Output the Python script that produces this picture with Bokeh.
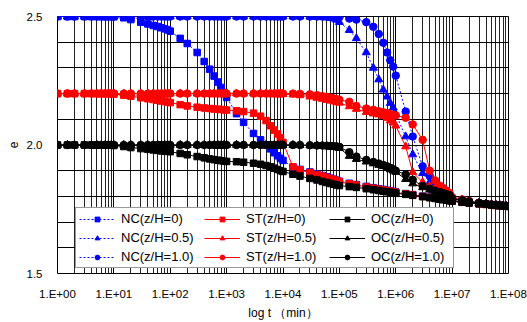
from bokeh.plotting import figure
from bokeh.models import FixedTicker, CustomJSTickFormatter, Legend, LegendItem
from bokeh.embed import file_html
from bokeh.resources import INLINE

# sampling times: mantissas within each decade
MANT = [1, 1.5, 2, 3, 4, 5, 6, 7, 8, 9]
DECADES = [0, 1, 2, 3, 4, 5, 6, 7]
T = [m * 10 ** d for d in DECADES for m in MANT] + [1e8]

X_TICKS = [1, 10, 100, 1e3, 1e4, 1e5, 1e6, 1e7, 1e8]
X_MINOR = [m * 10 ** d for d in DECADES for m in [2, 3, 4, 5, 6, 7, 8, 9]]
Y_TICKS = [1.5, 2.0, 2.5]
Y_MINOR = [1.6, 1.7, 1.8, 1.9, 2.1, 2.2, 2.3, 2.4]

NC0 = [
    2.5, 2.5, 2.5, 2.5, 2.5, 2.5, 2.5, 2.5, 2.5, 2.5,
    2.499, 2.495, 2.488, 2.478, 2.471, 2.465, 2.461, 2.456, 2.452, 2.448,
    2.443, 2.415, 2.395, 2.36, 2.325, 2.295, 2.268, 2.245, 2.224, 2.204,
    2.185, 2.122, 2.088, 2.045, 2.02, 2.0, 1.985, 1.97, 1.958, 1.948,
    1.94, 1.913, 1.905, 1.895, 1.887, 1.881, 1.876, 1.871, 1.867, 1.863,
    1.859, 1.851, 1.846, 1.839, 1.834, 1.83, 1.827, 1.824, 1.822, 1.82,
    1.817, 1.811, 1.807, 1.801, 1.797, 1.794, 1.791, 1.789, 1.787, 1.785,
    1.783, 1.779, 1.776, 1.772, 1.77, 1.768, 1.766, 1.765, 1.764, 1.763,
    1.762]
NC05 = [
    2.5, 2.5, 2.5, 2.5, 2.5, 2.5, 2.5, 2.5, 2.5, 2.5,
    2.5, 2.5, 2.5, 2.5, 2.5, 2.5, 2.5, 2.5, 2.5, 2.5,
    2.5, 2.5, 2.5, 2.5, 2.5, 2.5, 2.5, 2.5, 2.5, 2.5,
    2.5, 2.5, 2.5, 2.5, 2.5, 2.5, 2.5, 2.5, 2.5, 2.5,
    2.5, 2.5, 2.5, 2.499, 2.498, 2.497, 2.496, 2.494, 2.491, 2.487,
    2.478, 2.447, 2.415, 2.36, 2.3, 2.255, 2.215, 2.188, 2.163, 2.145,
    2.12, 2.033, 1.963, 1.89, 1.855, 1.838, 1.828, 1.82, 1.812, 1.806,
    1.792, 1.785, 1.78, 1.774, 1.771, 1.768, 1.766, 1.765, 1.764, 1.763,
    1.762]
NC10 = [
    2.5, 2.5, 2.5, 2.5, 2.5, 2.5, 2.5, 2.5, 2.5, 2.5,
    2.5, 2.5, 2.5, 2.5, 2.5, 2.5, 2.5, 2.5, 2.5, 2.5,
    2.5, 2.5, 2.5, 2.5, 2.5, 2.5, 2.5, 2.5, 2.5, 2.5,
    2.5, 2.5, 2.5, 2.5, 2.5, 2.5, 2.5, 2.5, 2.5, 2.5,
    2.5, 2.5, 2.5, 2.5, 2.5, 2.5, 2.5, 2.5, 2.5, 2.5,
    2.498, 2.492, 2.488, 2.478, 2.46, 2.432, 2.398, 2.36, 2.33, 2.305,
    2.27, 2.13, 2.033, 1.917, 1.88, 1.855, 1.84, 1.828, 1.818, 1.81,
    1.795, 1.787, 1.781, 1.775, 1.771, 1.768, 1.766, 1.765, 1.764, 1.763,
    1.762]
ST0 = [
    2.2, 2.2, 2.2, 2.2, 2.2, 2.2, 2.2, 2.2, 2.2, 2.2,
    2.198, 2.194, 2.19, 2.184, 2.18, 2.177, 2.174, 2.171, 2.169, 2.167,
    2.165, 2.157, 2.152, 2.147, 2.144, 2.142, 2.14, 2.139, 2.138, 2.137,
    2.136, 2.133, 2.13, 2.124, 2.112, 2.095, 2.075, 2.058, 2.043, 2.028,
    2.01, 1.915, 1.903, 1.893, 1.885, 1.879, 1.874, 1.869, 1.865, 1.861,
    1.857, 1.849, 1.844, 1.837, 1.832, 1.828, 1.825, 1.822, 1.82, 1.818,
    1.815, 1.81, 1.806, 1.8, 1.796, 1.793, 1.79, 1.788, 1.786, 1.784,
    1.782, 1.778, 1.775, 1.771, 1.769, 1.767, 1.765, 1.764, 1.763, 1.762,
    1.761]
ST05 = [
    2.2, 2.2, 2.2, 2.2, 2.2, 2.2, 2.2, 2.2, 2.2, 2.2,
    2.2, 2.2, 2.2, 2.2, 2.2, 2.2, 2.2, 2.2, 2.2, 2.2,
    2.2, 2.2, 2.2, 2.2, 2.2, 2.2, 2.2, 2.2, 2.2, 2.2,
    2.2, 2.2, 2.2, 2.2, 2.2, 2.2, 2.2, 2.2, 2.2, 2.2,
    2.198, 2.196, 2.193, 2.188, 2.183, 2.179, 2.175, 2.172, 2.169, 2.166,
    2.164, 2.15, 2.14, 2.128, 2.122, 2.118, 2.112, 2.105, 2.095, 2.087,
    2.075, 1.994, 1.894, 1.855, 1.84, 1.833, 1.825, 1.818, 1.812, 1.806,
    1.792, 1.785, 1.78, 1.774, 1.771, 1.768, 1.766, 1.765, 1.764, 1.763,
    1.762]
ST10 = [
    2.2, 2.2, 2.2, 2.2, 2.2, 2.2, 2.2, 2.2, 2.2, 2.2,
    2.2, 2.2, 2.2, 2.2, 2.2, 2.2, 2.2, 2.2, 2.2, 2.2,
    2.2, 2.2, 2.2, 2.2, 2.2, 2.2, 2.2, 2.2, 2.2, 2.2,
    2.2, 2.2, 2.2, 2.2, 2.2, 2.2, 2.2, 2.2, 2.2, 2.2,
    2.2, 2.2, 2.199, 2.197, 2.194, 2.19, 2.187, 2.184, 2.181, 2.178,
    2.176, 2.168, 2.152, 2.142, 2.137, 2.131, 2.127, 2.124, 2.12, 2.117,
    2.115, 2.106, 2.08, 2.02, 1.9, 1.862, 1.842, 1.832, 1.822, 1.813,
    1.797, 1.788, 1.782, 1.775, 1.771, 1.768, 1.766, 1.765, 1.764, 1.763,
    1.762]
OC0 = [
    2.0, 2.0, 2.0, 2.0, 2.0, 2.0, 2.0, 2.0, 2.0, 2.0,
    1.998, 1.994, 1.99, 1.986, 1.983, 1.981, 1.979, 1.977, 1.976, 1.975,
    1.974, 1.967, 1.962, 1.955, 1.95, 1.946, 1.943, 1.941, 1.939, 1.937,
    1.936, 1.935, 1.933, 1.929, 1.925, 1.92, 1.915, 1.91, 1.905, 1.9,
    1.897, 1.886, 1.879, 1.87, 1.864, 1.858, 1.854, 1.85, 1.847, 1.844,
    1.842, 1.838, 1.835, 1.83, 1.826, 1.823, 1.82, 1.818, 1.816, 1.814,
    1.812, 1.808, 1.804, 1.799, 1.795, 1.792, 1.789, 1.787, 1.785, 1.783,
    1.781, 1.777, 1.774, 1.771, 1.769, 1.767, 1.765, 1.764, 1.763, 1.762,
    1.761]
OC05 = [
    2.0, 2.0, 2.0, 2.0, 2.0, 2.0, 2.0, 2.0, 2.0, 2.0,
    2.0, 2.0, 2.0, 2.0, 2.0, 2.0, 2.0, 2.0, 2.0, 2.0,
    2.0, 2.0, 2.0, 2.0, 2.0, 2.0, 2.0, 2.0, 2.0, 2.0,
    2.0, 2.0, 2.0, 2.0, 2.0, 2.0, 2.0, 2.0, 2.0, 2.0,
    2.0, 2.0, 1.999, 1.998, 1.997, 1.996, 1.995, 1.994, 1.993, 1.992,
    1.988, 1.957, 1.945, 1.935, 1.928, 1.922, 1.917, 1.912, 1.905, 1.9,
    1.895, 1.867, 1.85, 1.835, 1.826, 1.82, 1.815, 1.811, 1.807, 1.803,
    1.79, 1.784, 1.779, 1.774, 1.771, 1.768, 1.766, 1.765, 1.764, 1.763,
    1.762]
OC10 = [
    2.0, 2.0, 2.0, 2.0, 2.0, 2.0, 2.0, 2.0, 2.0, 2.0,
    2.0, 2.0, 2.0, 2.0, 2.0, 2.0, 2.0, 2.0, 2.0, 2.0,
    2.0, 2.0, 2.0, 2.0, 2.0, 2.0, 2.0, 2.0, 2.0, 2.0,
    2.0, 2.0, 2.0, 2.0, 2.0, 2.0, 2.0, 2.0, 2.0, 2.0,
    2.0, 2.0, 2.0, 1.999, 1.998, 1.998, 1.997, 1.996, 1.995, 1.994,
    1.993, 1.972, 1.955, 1.942, 1.934, 1.928, 1.922, 1.917, 1.911, 1.906,
    1.9, 1.885, 1.865, 1.84, 1.83, 1.822, 1.817, 1.812, 1.808, 1.804,
    1.791, 1.785, 1.78, 1.774, 1.771, 1.768, 1.766, 1.765, 1.764, 1.763,
    1.762]

SERIES = [
    ("NC(z/H=0)", NC0, "#0000ff", "square", "2 2", 6.5),
    ("NC(z/H=0.5)", NC05, "#0000ff", "triangle", "2 2", 8),
    ("NC(z/H=1.0)", NC10, "#0000ff", "circle", "2 2", 7.5),
    ("ST(z/H=0)", ST0, "#ff0000", "square", "solid", 6.5),
    ("ST(z/H=0.5)", ST05, "#ff0000", "triangle", "solid", 8),
    ("ST(z/H=1.0)", ST10, "#ff0000", "circle", "solid", 7.5),
    ("OC(z/H=0)", OC0, "#000000", "square", "solid", 6.5),
    ("OC(z/H=0.5)", OC05, "#000000", "triangle", "solid", 8),
    ("OC(z/H=1.0)", OC10, "#000000", "circle", "solid", 7.5),
]

FONT = "Liberation Sans"

p = figure(width=527, height=322, x_axis_type="log", x_range=(1, 1e8), y_range=(1.5, 2.5),
           output_backend="svg", toolbar_location=None,
           min_border_left=57, min_border_right=19, min_border_top=16, min_border_bottom=47)
p.background_fill_color = "white"
p.border_fill_color = "white"
p.outline_line_color = "black"
p.outline_line_width = 1

p.xaxis.ticker = FixedTicker(ticks=X_TICKS, minor_ticks=X_MINOR)
p.yaxis.ticker = FixedTicker(ticks=Y_TICKS, minor_ticks=Y_MINOR)
p.xaxis.formatter = CustomJSTickFormatter(
    code="const e = Math.round(Math.log10(tick)); return '1.E+' + (e < 10 ? '0' : '') + e;")
p.yaxis.formatter = CustomJSTickFormatter(code="return tick.toFixed(1);")

for ax in (p.xaxis, p.yaxis):
    ax.axis_line_color = None
    ax.major_tick_line_color = None
    ax.minor_tick_line_color = None
    ax.major_tick_out = 0
    ax.minor_tick_out = 0
    ax.major_label_text_font = FONT
    ax.major_label_text_font_size = "11.5px"
    ax.major_label_text_color = "black"
    ax.axis_label_text_font = FONT
    ax.axis_label_text_font_size = "12px"
    ax.axis_label_text_font_style = "normal"
    ax.axis_label_text_color = "black"

p.xaxis.major_label_standoff = 14
p.xaxis.axis_label = "log t （min）"
p.xaxis.axis_label_standoff = 3
p.yaxis.major_label_standoff = 15
p.yaxis.axis_label = "e"
p.yaxis.axis_label_standoff = 6

p.xgrid.grid_line_color = "black"
p.xgrid.grid_line_width = 1
p.xgrid.minor_grid_line_color = "#222222"
p.xgrid.minor_grid_line_width = 1
p.ygrid.grid_line_color = "black"
p.ygrid.minor_grid_line_color = "black"

items = []
for label, vals, color, marker, dash, size in SERIES:
    rl = p.line(T, vals, line_color=color, line_width=1, line_dash=dash)
    rm = p.scatter(T, vals, marker=marker, size=size, fill_color=color, line_color=color)
    items.append(LegendItem(label=label, renderers=[rl, rm]))

legend = Legend(items=items, location=(18, 5), orientation="vertical", nrows=3)
legend.label_text_font = FONT
legend.label_text_font_size = "13px"
legend.label_text_color = "black"
legend.glyph_width = 36
legend.glyph_height = 12
legend.label_height = 12
legend.label_width = 79
legend.label_standoff = 6
legend.spacing = 4
legend.padding = 3
legend.margin = 0
legend.border_line_color = "#333333"
legend.border_line_width = 1
legend.background_fill_color = "white"
legend.background_fill_alpha = 1
p.add_layout(legend)

open("out.html", "w").write(file_html(p, INLINE))
